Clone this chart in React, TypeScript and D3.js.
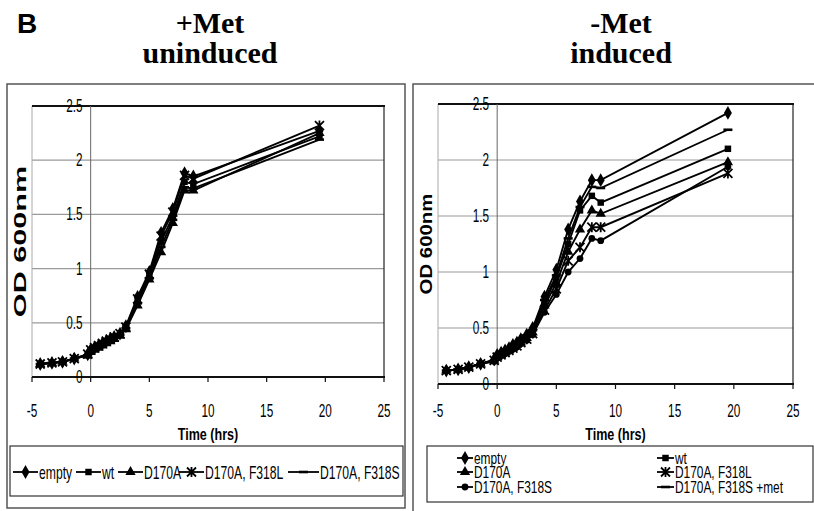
import React from 'react';
import * as d3 from 'd3';

// time points (hrs)
const times = [-4.3, -3.3, -2.4, -1.4, -0.25, 0, 0.33, 0.67, 1, 1.33, 1.67, 2, 2.5, 3, 4, 5, 6, 7, 8, 8.75, 19.5];

// +Met uninduced
const leftEmpty = [0.12, 0.13, 0.14, 0.17, 0.21, 0.25, 0.27, 0.29, 0.31, 0.33, 0.35, 0.37, 0.4, 0.47, 0.74, 0.97, 1.33, 1.55, 1.88, 1.85, 2.27];
const leftWt = [0.12, 0.13, 0.14, 0.17, 0.2, 0.24, 0.26, 0.28, 0.3, 0.32, 0.34, 0.36, 0.39, 0.45, 0.7, 0.93, 1.25, 1.48, 1.8, 1.78, 2.22];
const leftD170A = [0.12, 0.13, 0.14, 0.17, 0.2, 0.23, 0.25, 0.27, 0.29, 0.31, 0.33, 0.35, 0.38, 0.44, 0.66, 0.9, 1.15, 1.42, 1.72, 1.72, 2.25];
const leftF318L = [0.12, 0.13, 0.14, 0.17, 0.21, 0.25, 0.27, 0.29, 0.31, 0.33, 0.35, 0.37, 0.4, 0.46, 0.72, 0.95, 1.3, 1.52, 1.86, 1.83, 2.32];
const leftF318S = [0.12, 0.13, 0.14, 0.17, 0.2, 0.24, 0.26, 0.28, 0.3, 0.32, 0.34, 0.36, 0.39, 0.45, 0.68, 0.91, 1.2, 1.45, 1.75, 1.74, 2.19];

// -Met induced
const rightEmpty = [0.12, 0.13, 0.15, 0.18, 0.22, 0.26, 0.28, 0.3, 0.32, 0.35, 0.37, 0.4, 0.44, 0.5, 0.78, 1.02, 1.38, 1.63, 1.82, 1.82, 2.42];
const rightWt = [0.12, 0.13, 0.15, 0.18, 0.21, 0.25, 0.27, 0.29, 0.31, 0.33, 0.35, 0.38, 0.42, 0.47, 0.72, 0.95, 1.25, 1.55, 1.68, 1.62, 2.1];
const rightD170A = [0.12, 0.13, 0.15, 0.18, 0.21, 0.24, 0.26, 0.28, 0.3, 0.33, 0.35, 0.37, 0.41, 0.46, 0.7, 0.9, 1.18, 1.38, 1.55, 1.52, 1.98];
const rightF318L = [0.12, 0.13, 0.15, 0.18, 0.21, 0.24, 0.26, 0.28, 0.3, 0.32, 0.34, 0.37, 0.4, 0.45, 0.66, 0.85, 1.1, 1.22, 1.4, 1.4, 1.88];
const rightF318S = [0.12, 0.13, 0.15, 0.18, 0.2, 0.23, 0.25, 0.27, 0.29, 0.31, 0.33, 0.36, 0.39, 0.44, 0.64, 0.8, 1.0, 1.12, 1.3, 1.28, 1.94];
const rightF318SMet = [0.12, 0.13, 0.15, 0.18, 0.21, 0.25, 0.27, 0.29, 0.31, 0.34, 0.36, 0.39, 0.43, 0.48, 0.75, 0.97, 1.3, 1.58, 1.76, 1.75, 2.27];

const xTicks = [-5, 0, 5, 10, 15, 20, 25];
const yTicks = [0, 0.5, 1, 1.5, 2, 2.5];

const leftSeries = [
  {name: 'empty', values: leftEmpty, marker: 'diamond'},
  {name: 'wt', values: leftWt, marker: 'square'},
  {name: 'D170A', values: leftD170A, marker: 'triangle'},
  {name: 'D170A, F318L', values: leftF318L, marker: 'star'},
  {name: 'D170A, F318S', values: leftF318S, marker: 'dash'},
];
const rightSeries = [
  {name: 'empty', values: rightEmpty, marker: 'diamond'},
  {name: 'wt', values: rightWt, marker: 'square'},
  {name: 'D170A', values: rightD170A, marker: 'triangle'},
  {name: 'D170A, F318L', values: rightF318L, marker: 'star'},
  {name: 'D170A, F318S', values: rightF318S, marker: 'circle'},
  {name: 'D170A, F318S +met', values: rightF318SMet, marker: 'dash'},
];

const SANS = 'Liberation Sans, Arial, sans-serif';
const SERIF = 'Liberation Serif, Times New Roman, serif';

// condensed text: the figure is squashed horizontally
function SText({x, y, s = 1, rot = 0, anchor = 'start', size, weight = 'normal', family = SANS, children}: any) {
  return (
    <text
      transform={`translate(${x},${y}) rotate(${rot}) scale(${s},1)`}
      textAnchor={anchor}
      fontSize={size}
      fontWeight={weight}
      fontFamily={family}
      fill="#000">
      {children}
    </text>
  );
}

function Marker({type, x, y}: any) {
  const sym = (t: any, size: number) => d3.symbol().type(t).size(size)();
  if (type === 'diamond') return <path d={sym(d3.symbolDiamond, 55)} transform={`translate(${x},${y})`} fill="#000" />;
  if (type === 'square') return <path d={sym(d3.symbolSquare, 42)} transform={`translate(${x},${y})`} fill="#000" />;
  if (type === 'triangle') return <path d={sym(d3.symbolTriangle, 46)} transform={`translate(${x},${y})`} fill="#000" />;
  if (type === 'circle') return <path d={sym(d3.symbolCircle, 36)} transform={`translate(${x},${y})`} fill="#000" />;
  if (type === 'star')
    return (
      <path
        d={`M${x - 4.5},${y - 4.5}L${x + 4.5},${y + 4.5}M${x - 4.5},${y + 4.5}L${x + 4.5},${y - 4.5}M${x},${y - 5}L${x},${y + 5}`}
        stroke="#000"
        strokeWidth={1.8}
      />
    );
  return <path d={`M${x - 4.5},${y}L${x + 4.5},${y}`} stroke="#000" strokeWidth={2.6} />;
}

function Panel({box, plot, title1, title2, titleX, series, legend, labelScale}: any) {
  const x = d3.scaleLinear().domain([-5, 25]).range([plot.x0, plot.x1]);
  const y = d3.scaleLinear().domain([0, 2.5]).range([plot.y0, plot.y1]);
  const line = d3
    .line<number>()
    .x((_, i) => x(times[i]))
    .y((d) => y(d));
  const cx = (plot.x0 + plot.x1) / 2;

  return (
    <g>
      <SText x={titleX} y={33} anchor="middle" size={30} weight="bold" family={SERIF}>{title1}</SText>
      <SText x={titleX} y={63} anchor="middle" size={30} weight="bold" family={SERIF}>{title2}</SText>
      <rect x={box.x} y={box.y} width={box.w} height={box.h} fill="none" stroke="#555" strokeWidth={1.5} />

      {/* grid */}
      {yTicks.map((t) => (
        <line key={t} x1={plot.x0} x2={plot.x1} y1={y(t)} y2={y(t)} stroke="#9a9a9a" strokeWidth={1.2} />
      ))}
      <line x1={plot.x0} x2={plot.x0} y1={plot.y1} y2={plot.y0} stroke="#aaa" strokeWidth={1} />
      <line x1={plot.x1} x2={plot.x1} y1={plot.y1} y2={plot.y0} stroke="#222" strokeWidth={1.2} />
      <line x1={plot.x0} x2={plot.x1 + 1} y1={plot.y1} y2={plot.y1} stroke="#111" strokeWidth={2} />
      <line x1={x(0)} x2={x(0)} y1={plot.y1} y2={plot.y0} stroke="#666" strokeWidth={1} />
      <line x1={plot.x0} x2={plot.x1 + 1} y1={plot.y0} y2={plot.y0} stroke="#111" strokeWidth={2.2} />
      {xTicks.map((t) => (
        <g key={t}>
          <line x1={x(t)} x2={x(t)} y1={plot.y0} y2={plot.y0 + 5} stroke="#111" strokeWidth={1.2} />
          <SText x={x(t)} y={417} anchor="middle" size={19} s={0.62}>{t}</SText>
        </g>
      ))}
      {yTicks.map((t) => (
        <SText key={t} x={x(0) - 8} y={y(t) + 6} anchor="end" size={19} s={0.62}>{t}</SText>
      ))}

      {/* axis titles */}
      <SText x={box.x + 19} y={(plot.y0 + plot.y1) / 2} rot={-90} s={labelScale} anchor="middle" size={17} weight="bold">
        OD 600nm
      </SText>
      <SText x={cx} y={440} anchor="middle" size={17} weight="bold" s={0.74}>Time (hrs)</SText>

      {/* series */}
      {series.map((s: any) => (
        <g key={s.name}>
          <path d={line(s.values) || ''} fill="none" stroke="#000" strokeWidth={1.9} />
          {s.values.map((v: number, i: number) => (
            <Marker key={i} type={s.marker} x={x(times[i])} y={y(v)} />
          ))}
        </g>
      ))}

      {/* legend */}
      <rect x={legend.box.x} y={legend.box.y} width={legend.box.w} height={legend.box.h} fill="none" stroke="#333" strokeWidth={1.2} />
      {series.map((s: any, i: number) => {
        const p = legend.items[i];
        return (
          <g key={s.name}>
            <line x1={p.x} x2={p.x + p.len} y1={p.y} y2={p.y} stroke="#000" strokeWidth={1.8} />
            <Marker type={s.marker} x={p.x + p.len / 2} y={p.y} />
            <SText x={p.x + p.len + 1} y={p.y + legend.dy} size={legend.size} s={legend.s}>{s.name}</SText>
          </g>
        );
      })}
    </g>
  );
}

export default function App() {
  const leftLegend = {
    box: {x: 10, y: 446, w: 393, h: 50},
    size: 19,
    s: 0.64,
    dy: 7,
    items: [
      {x: 13, y: 472, len: 25},
      {x: 76, y: 472, len: 25},
      {x: 118, y: 472, len: 25},
      {x: 179, y: 472, len: 25},
      {x: 288, y: 472, len: 31},
    ],
  };
  const rightLegend = {
    box: {x: 427, y: 446, w: 386, h: 56},
    size: 17,
    s: 0.7,
    dy: 6,
    items: [
      {x: 457, y: 458, len: 16},
      {x: 657, y: 458, len: 17},
      {x: 457, y: 472, len: 16},
      {x: 657, y: 472, len: 17},
      {x: 457, y: 487, len: 16},
      {x: 657, y: 487, len: 17},
    ],
  };
  return (
    <svg width={814} height={511} style={{position: 'absolute', left: 0, top: 0, background: '#fff'}}>
      <rect width={814} height={511} fill="#fff" />
      <SText x={17} y={33} size={28} weight="bold">B</SText>
      <Panel
        box={{x: 7, y: 84, w: 398, h: 424}}
        plot={{x0: 32, x1: 384, y0: 377, y1: 106}}
        title1="+Met"
        title2="uninduced"
        titleX={210}
        series={leftSeries}
        legend={leftLegend}
        labelScale={1.8}
      />
      <Panel
        box={{x: 413, y: 84, w: 402, h: 428}}
        plot={{x0: 438, x1: 793, y0: 384, y1: 104}}
        title1="-Met"
        title2="induced"
        titleX={621}
        series={rightSeries}
        legend={rightLegend}
        labelScale={1.2}
      />
    </svg>
  );
}
